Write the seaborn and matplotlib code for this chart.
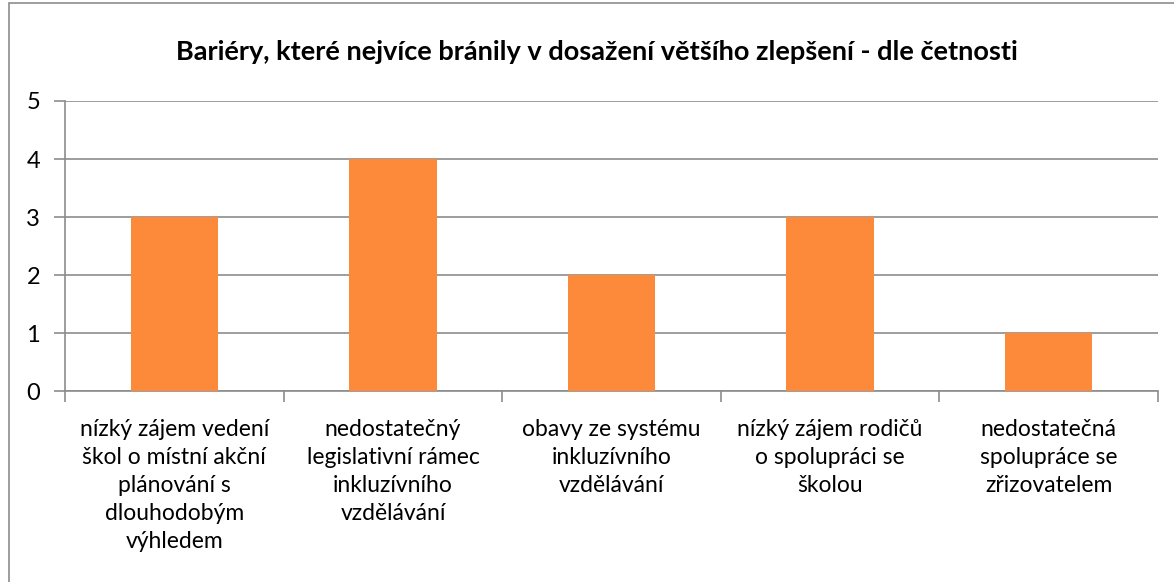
import numpy as np
import pandas as pd
import matplotlib
matplotlib.use('Agg')
import matplotlib.pyplot as plt
import seaborn as sns
from matplotlib.patches import Rectangle

### data

categories = [
    'nízký zájem vedení\nškol o místní akční\nplánování s\ndlouhodobým\nvýhledem',
    'nedostatečný\nlegislativní rámec\ninkluzívního\nvzdělávání',
    'obavy ze systému\ninkluzívního\nvzdělávání',
    'nízký zájem rodičů\no spolupráci se\nškolou',
    'nedostatečná\nspolupráce se\nzřizovatelem',
]
counts = [3, 4, 2, 3, 1]
y_ticks = [0, 1, 2, 3, 4, 5]
title = 'Bariéry, které nejvíce bránily v dosažení většího zlepšení - dle četnosti'

df = pd.DataFrame({'bariera': categories, 'cetnost': counts})

sns.set_theme(style='white')
plt.rcParams['font.family'] = ['Lato', 'DejaVu Sans']
plt.rcParams['text.color'] = 'black'

fig = plt.figure(figsize=(11.74, 5.82), dpi=100)
ax = fig.add_axes([0.0554, 0.328, 0.931, 0.4985])

sns.barplot(data=df, x='bariera', y='cetnost', color='#FD8A3A', width=0.4,
            saturation=1, linewidth=0, edgecolor='none', ax=ax, zorder=3)

grid_col = '#8C8C8C'
ax.set_ylim(0, 5)
ax.set_xlim(-0.5, len(categories) - 0.5)
ax.set_yticks(y_ticks)
ax.yaxis.grid(True, color=grid_col, linewidth=1.2, zorder=0)
ax.set_axisbelow(True)
for s in ['top', 'right']:
    ax.spines[s].set_visible(False)
for s in ['left', 'bottom']:
    ax.spines[s].set_color(grid_col)
    ax.spines[s].set_linewidth(1.2)

# category boundary ticks on the x axis
ax.set_xticks(np.arange(-0.5, len(categories), 1.0), minor=True)
ax.tick_params(axis='x', which='minor', length=8, width=1.2, color=grid_col, bottom=True)
ax.tick_params(axis='x', which='major', length=0, labelsize=16.5, pad=20, colors='black')
ax.tick_params(axis='y', which='major', length=8, width=1.2, color=grid_col, left=True,
               labelsize=17, pad=10, labelcolor='black')
for lab in ax.get_xticklabels():
    lab.set_linespacing(1.42)
    lab.set_verticalalignment('top')

ax.set_xlabel('')
ax.set_ylabel('')

fig.text(0.508, 0.911, title, ha='center', va='center', fontsize=19.5,
         fontweight='bold', color='black')

# outer chart frame (right and bottom edges fall outside the picture)
fig.patches.append(Rectangle((0.008, -0.01), 1.0, 1.005, transform=fig.transFigure,
                             fill=False, edgecolor=grid_col, linewidth=1.2))

fig.savefig('out.png', dpi=100)
